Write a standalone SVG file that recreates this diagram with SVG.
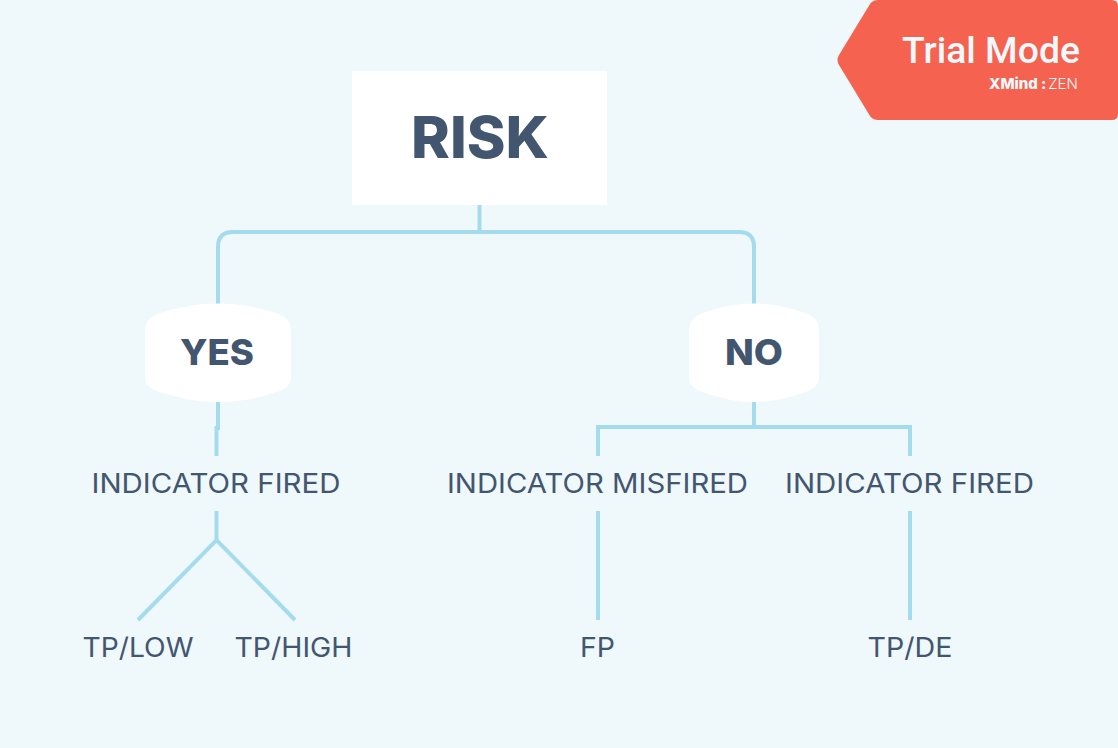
<svg xmlns="http://www.w3.org/2000/svg" width="1118" height="748" viewBox="0 0 1118 748">
<style>
.c{fill:none;stroke:#a5dced;stroke-width:4}
.t{font-family:Inter,"Liberation Sans",sans-serif;fill:#43566f;text-anchor:middle}
.s{font-size:27px;font-weight:400}
.b{font-size:36px;font-weight:800}
.n{fill:#fff}
</style>
<rect width="1118" height="748" fill="#eff8fb"/>
<g id="connectors">
<path class="c" d="M479.500 205V232M218 304V247Q218 232 233 232H739Q754 232 754 247V304"/>
<path class="c" d="M218 402V428H216.500V456"/>
<path class="c" d="M754 402V427M598 456V427H910V456"/>
<path class="c" d="M216.500 511V540M138 620L216.500 540L295 620"/>
<path class="c" d="M598 511V620M910 511V620"/>
</g>
<g id="risk"><rect class="n" x="352" y="71" width="255" height="134"/><text class="t" x="480" y="158" font-size="58" font-weight="800" textLength="138" lengthAdjust="spacingAndGlyphs">RISK</text></g>
<g id="yes"><path class="n" d="M145 330Q145 318 160 313Q218 294 276 313Q291 318 291 330V377Q291 388 276 392Q218 412 160 392Q145 388 145 377Z"/><text class="t b" x="217" y="365" textLength="74" lengthAdjust="spacingAndGlyphs">YES</text></g>
<g id="no"><path class="n" d="M689 330Q689 318 703 313Q754 294 805 313Q819 318 819 330V377Q819 388 805 392Q754 412 703 392Q689 388 689 377Z"/><text class="t b" x="754" y="365" textLength="58" lengthAdjust="spacingAndGlyphs">NO</text></g>
<g id="indicator-fired-left"><text class="t s" x="216" y="493" textLength="249" lengthAdjust="spacingAndGlyphs">INDICATOR FIRED</text></g>
<g id="indicator-misfired"><text class="t s" x="597.500" y="493" textLength="301" lengthAdjust="spacingAndGlyphs">INDICATOR MISFIRED</text></g>
<g id="indicator-fired-right"><text class="t s" x="909.500" y="493" textLength="249" lengthAdjust="spacingAndGlyphs">INDICATOR FIRED</text></g>
<g id="tp-low"><text class="t s" x="138" y="657" textLength="111" lengthAdjust="spacingAndGlyphs">TP/LOW</text></g>
<g id="tp-high"><text class="t s" x="293.500" y="657" textLength="118" lengthAdjust="spacingAndGlyphs">TP/HIGH</text></g>
<g id="fp"><text class="t s" x="597.500" y="657" textLength="35" lengthAdjust="spacingAndGlyphs">FP</text></g>
<g id="tp-de"><text class="t s" x="910" y="657" textLength="85" lengthAdjust="spacingAndGlyphs">TP/DE</text></g>
<g id="trial-mode"><path d="M878 0H1112Q1118 0 1118 6V114Q1118 120 1112 120H878Q873 120 870 116L839 65Q836 60 839 55L870 4Q873 0 878 0Z" fill="#f56350"/>
<text x="902" y="63" font-family="Roboto,'Liberation Sans',sans-serif" font-size="36" font-weight="500" fill="#eff8fb" textLength="178" lengthAdjust="spacingAndGlyphs">Trial Mode</text>
<text x="989" y="89" font-family="Inter,'Liberation Sans',sans-serif" font-size="15" fill="#eff8fb"><tspan font-weight="800">XMind</tspan><tspan font-weight="800" dx="3">:</tspan><tspan font-weight="300" dx="2">ZEN</tspan></text></g>
</svg>
